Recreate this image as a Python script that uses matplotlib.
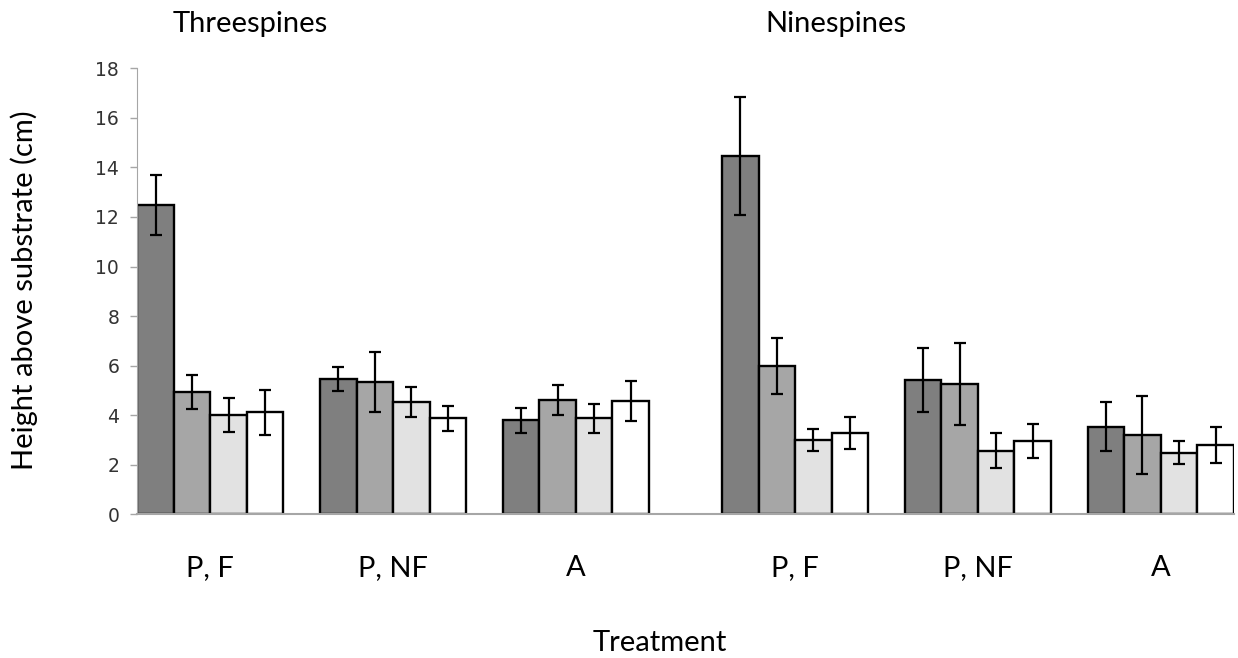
import matplotlib.pyplot as plt
import numpy as np

# treatments (first three threespines, last three ninespines)
treatments = ['P, F', 'P, NF', 'A', 'P, F', 'P, NF', 'A']
species = ['Threespines', 'Ninespines']

# mean height above substrate for the four series in each treatment
series1 = [12.5, 5.47, 3.79, 14.46, 5.41, 3.54]
series2 = [4.92, 5.33, 4.60, 5.98, 5.25, 3.21]
series3 = [4.02, 4.52, 3.87, 3.00, 2.57, 2.49]
series4 = [4.12, 3.87, 4.58, 3.29, 2.97, 2.81]
# standard errors
err1 = [1.21, 0.49, 0.50, 2.40, 1.29, 1.00]
err2 = [0.69, 1.21, 0.61, 1.13, 1.66, 1.57]
err3 = [0.69, 0.60, 0.60, 0.45, 0.72, 0.45]
err4 = [0.90, 0.52, 0.81, 0.65, 0.69, 0.73]

yticks = [0, 2, 4, 6, 8, 10, 12, 14, 16, 18]


def height_chart():
    '''Grouped bar chart with error bars for the height above substrate.'''
    label_font = {'fontsize': 21, 'family': 'Lato'}
    fig = plt.figure(figsize=(12.38, 6.58), dpi=100)
    ax = fig.add_axes([0.1109, 0.2184, 0.8857, 0.6778])

    # each group is 4 bars + one bar-wide gap, double gap between species
    starts = np.array([5 * i + (1 if i >= 3 else 0) for i in range(len(treatments))])
    width = 1.0
    colours = ['#7f7f7f', '#a6a6a6', '#e2e2e2', '#ffffff']
    values = [series1, series2, series3, series4]
    errors = [err1, err2, err3, err4]
    for k in range(4):
        ax.bar(starts + k * width, values[k], width, align='edge',
               color=colours[k], edgecolor='black', linewidth=1.7,
               yerr=errors[k], capsize=4.6,
               error_kw={'elinewidth': 1.6, 'capthick': 1.6, 'ecolor': 'black'},
               zorder=2)

    ax.set_xlim(0, 30)
    ax.set_ylim(0, 18)
    #tick styling first, fonts of the labels afterwards
    ax.tick_params(axis='y', direction='out', length=5, width=1,
                   color='#a6a6a6', pad=8, labelsize=13.5,
                   labelcolor='#333333')
    ax.tick_params(axis='x', length=0, pad=29)
    ax.set_yticks(yticks)
    ax.set_yticklabels([str(t) for t in yticks])
    for lab in ax.get_yticklabels():
        lab.set_family('DejaVu Sans')
        lab.set_fontsize(13.5)
    ax.set_xticks(starts + 2 * width)
    ax.set_xticklabels(treatments, **label_font)
    for side in ['top', 'right']:
        ax.spines[side].set_visible(False)
    ax.spines['left'].set_color('#a6a6a6')
    ax.spines['bottom'].set_color('#a6a6a6')
    ax.spines['bottom'].set_linewidth(1.5)

    # species headings above each half
    fig.text(250 / 1238, 1 - 24 / 658, species[0], ha='center', va='center',
             **label_font)
    fig.text(836 / 1238, 1 - 24 / 658, species[1], ha='center', va='center',
             **label_font)
    fig.text(660 / 1238, 1 - 643 / 658, 'Treatment', ha='center',
             va='center', **label_font)
    fig.text(24 / 1238, 1 - 290 / 658, 'Height above substrate (cm)',
             rotation=90, ha='center', va='center', **label_font)

    fig.savefig('out.png', dpi=100)


height_chart()
